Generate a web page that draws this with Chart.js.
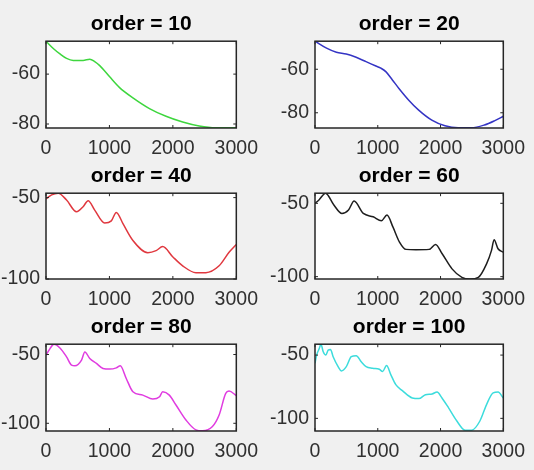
<!DOCTYPE html>
<html>
<head>
<meta charset="utf-8">
<script src="https://cdn.jsdelivr.net/npm/chart.js@4.4.1/dist/chart.umd.min.js"></script>
<style>
  html, body { margin: 0; padding: 0; background: #f0f0f0; overflow: hidden; }
  body { width: 534px; height: 470px; position: relative; }
  canvas { position: absolute; }
</style>
</head>
<body>
<canvas id="p10"></canvas>
<canvas id="p20"></canvas>
<canvas id="p40"></canvas>
<canvas id="p60"></canvas>
<canvas id="p80"></canvas>
<canvas id="p100"></canvas>
<script>
'use strict';

// data (x in samples, y in dB)
var orders = [10, 20, 40, 60, 80, 100];
var xTicks = [0, 1000, 2000, 3000];

var x10 = [0, 115, 220, 324, 429, 585, 690, 768, 847, 1004, 1160, 1370, 1631, 1892, 2154, 2415, 2676, 3000];
var y10 = [-46.8, -49.7, -51.9, -53.7, -54.5, -54.5, -54.0, -55.0, -56.6, -61.1, -65.4, -69.5, -73.8, -76.9, -79.2, -80.8, -81.5, -81.5];

var x20 = [0, 184, 341, 498, 655, 813, 970, 1049, 1128, 1233, 1337, 1494, 1652, 1861, 2071, 2281, 2491, 2700, 2858, 3000];
var y20 = [-47.1, -50.3, -52.2, -53.0, -54.5, -56.5, -58.5, -59.5, -61.1, -64.9, -68.8, -74.2, -78.8, -83.4, -86.0, -86.9, -86.9, -85.6, -83.7, -81.6];

var x40 = [0, 89, 193, 324, 481, 585, 664, 768, 925, 1030, 1108, 1213, 1370, 1605, 1735, 1840, 1997, 2154, 2363, 2520, 2729, 2886, 3000];
var y40 = [-50.8, -48.3, -47.3, -51.5, -58.7, -55.6, -51.9, -57.7, -65.6, -64.3, -59.1, -66.0, -76.3, -83.8, -82.6, -80.1, -86.3, -91.9, -96.1, -96.1, -91.9, -83.6, -78.8];

var x60 = [0, 63, 168, 298, 429, 534, 623, 770, 927, 1058, 1147, 1241, 1346, 1450, 1607, 1817, 1921, 2026, 2183, 2340, 2471, 2602, 2733, 2812, 2853, 2916, 3000];
var y60 = [-50, -47.7, -43.1, -51.0, -56.9, -54.5, -48.4, -56.9, -59.2, -61.9, -58.0, -66.1, -76.4, -81.4, -81.6, -81.4, -78.0, -84.4, -94.7, -100.5, -101.6, -100.5, -91.3, -82.1, -74.8, -81.0, -83.3];

var x80 = [0, 63, 125, 220, 324, 403, 455, 560, 612, 690, 795, 899, 1004, 1108, 1171, 1265, 1370, 1526, 1683, 1790, 1840, 1944, 2049, 2206, 2363, 2467, 2624, 2729, 2833, 2885, 3000];
var y80 = [-50.5, -45.7, -42.5, -45.2, -51.7, -57.7, -58.2, -54.1, -48.1, -52.9, -56.5, -60.1, -60.6, -59.7, -58.2, -67.4, -77.1, -79.5, -82.4, -80.7, -77.1, -79.5, -86.7, -97.6, -104.8, -105.5, -102.4, -94.0, -78.3, -76.6, -79.8];

var x100 = [0, 26, 68, 95, 131, 173, 210, 247, 289, 368, 420, 499, 578, 657, 736, 814, 919, 1025, 1077, 1140, 1209, 1287, 1392, 1550, 1655, 1760, 1866, 1944, 2023, 2128, 2260, 2391, 2496, 2627, 2733, 2838, 2917, 3000];
var y100 = [-56.5, -50, -44.8, -41.4, -47.4, -50, -46.1, -45.6, -51.3, -59.1, -62.5, -59.1, -51.3, -50.5, -55.2, -59.1, -60.4, -61.2, -63, -58.3, -65.6, -73.4, -78.1, -83.9, -84.4, -81.3, -80.7, -79.2, -83.9, -91.7, -102.1, -109.4, -109.4, -102.1, -89.1, -79.9, -79.2, -83.9];

var yTicksTop = [-80, -60];
var yTicksLow = [-100, -50];
var yLimits = [[-81.6, -46.8], [-87.0, -47.1], [-100, -47.3], [-101.6, -43.1], [-105.6, -42.5], [-110, -41.4]];

var FONT = "'Liberation Sans', Arial, Helvetica, sans-serif";

// white axes area, black box with inward ticks on all four sides
var boxPlugin = {
    id: 'matlabBox',
    beforeDraw: function (chart) {
        var a = chart.chartArea, ctx = chart.ctx;
        ctx.save();
        ctx.fillStyle = '#ffffff';
        ctx.fillRect(a.left, a.top, a.right - a.left, a.bottom - a.top);
        ctx.restore();
    },
    afterDraw: function (chart) {
        var a = chart.chartArea, ctx = chart.ctx;
        var sx = chart.scales.x, sy = chart.scales.y;
        ctx.save();
        ctx.strokeStyle = '#262626';
        ctx.lineWidth = 1;
        ctx.beginPath();
        sx.ticks.forEach(function (t) {
            var p = sx.getPixelForValue(t.value);
            ctx.moveTo(p, a.bottom); ctx.lineTo(p, a.bottom - 3);
            ctx.moveTo(p, a.top); ctx.lineTo(p, a.top + 3);
        });
        sy.ticks.forEach(function (t) {
            var p = sy.getPixelForValue(t.value);
            ctx.moveTo(a.left, p); ctx.lineTo(a.left + 3, p);
            ctx.moveTo(a.right, p); ctx.lineTo(a.right - 3, p);
        });
        ctx.stroke();
        ctx.lineWidth = 1.5;
        ctx.strokeRect(a.left, a.top, a.right - a.left, a.bottom - a.top);
        ctx.restore();
    }
};

function plain(v) { return String(v); }

function panel(id, left, top, width, height, padRight, order, xs, ys, lim, yTicks, color) {
    var cv = document.getElementById(id);
    cv.width = width; cv.height = height;
    cv.style.left = left + 'px'; cv.style.top = top + 'px';
    cv.style.width = width + 'px'; cv.style.height = height + 'px';
    var pts = xs.map(function (x, i) { return { x: x, y: ys[i] }; });
    return new Chart(cv, {
        type: 'line',
        data: {
            datasets: [{
                data: pts,
                borderColor: color,
                borderWidth: 1.5,
                pointRadius: 0,
                cubicInterpolationMode: 'monotone',
                fill: false
            }]
        },
        options: {
            responsive: false,
            animation: false,
            devicePixelRatio: 1,
            layout: { padding: { left: 0, right: padRight, top: 0, bottom: 2 } },
            plugins: {
                legend: { display: false },
                tooltip: { enabled: false },
                title: {
                    display: true,
                    text: 'order = ' + order,
                    fullSize: false,
                    color: '#000000',
                    font: { family: FONT, size: 21, weight: 'bold', lineHeight: 1.2 },
                    padding: { top: 12, bottom: 4 }
                }
            },
            scales: {
                x: {
                    type: 'linear',
                    min: 0, max: 3000,
                    grid: { display: false, drawTicks: false },
                    border: { display: false },
                    ticks: { color: '#303030', padding: 9, maxRotation: 0, callback: plain,
                             font: { family: FONT, size: 19.5 } },
                    afterBuildTicks: function (s) { s.ticks = xTicks.map(function (v) { return { value: v }; }); },
                    afterFit: function (s) { s.height = 30; }
                },
                y: {
                    type: 'linear',
                    min: lim[0], max: lim[1],
                    grid: { display: false, drawTicks: false },
                    border: { display: false },
                    ticks: { color: '#303030', padding: 6, callback: plain,
                             font: { family: FONT, size: 19.5 } },
                    afterBuildTicks: function (s) { s.ticks = yTicks.map(function (v) { return { value: v }; }); },
                    afterFit: function (s) { s.width = 46; }
                }
            }
        },
        plugins: [boxPlugin]
    });
}

var colors = ['#3ed63e', '#3434c4', '#e0383f', '#1e1e1e', '#e03ce0', '#3cdcdc'];
var xsAll = [x10, x20, x40, x60, x80, x100];
var ysAll = [y10, y20, y40, y60, y80, y100];
var ids = ['p10', 'p20', 'p40', 'p60', 'p80', 'p100'];
var rowTop = [0, 152, 303];
var rowH = [160, 159, 160];

orders.forEach(function (ord, i) {
    var r = Math.floor(i / 2), c = i % 2;
    var left = c === 0 ? 0 : 269;
    var width = c === 0 ? 267 : 265;
    var padRight = c === 0 ? 30 : 28;
    panel(ids[i], left, rowTop[r], width, rowH[r], padRight, ord,
        xsAll[i], ysAll[i], yLimits[i], r === 0 ? yTicksTop : yTicksLow, colors[i]);
});
</script>
</body>
</html>
